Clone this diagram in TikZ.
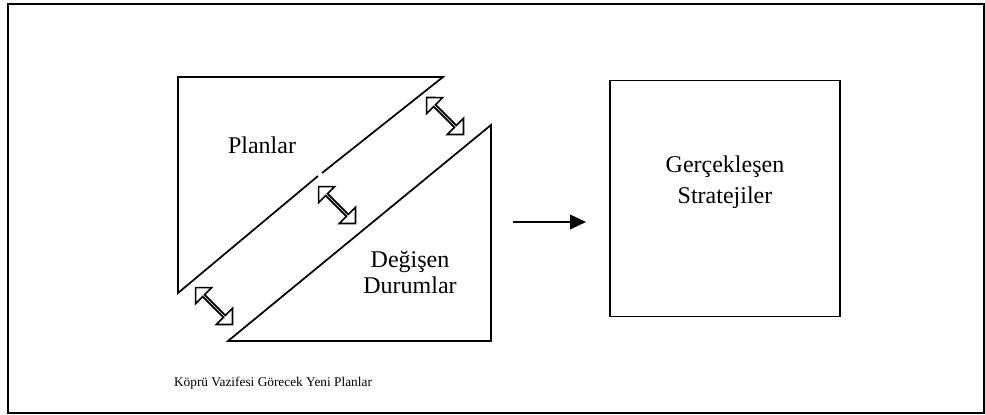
\documentclass[tikz,border=0pt]{standalone}
\usepackage{fontspec}
\setmainfont{Liberation Serif}
\usetikzlibrary{shapes.arrows,arrows.meta}
\tikzstyle{bigtext}=[font=\fontsize{18}{21}\selectfont, inner sep=0pt, anchor=base]
\tikzstyle{smalltext}=[font=\fontsize{10}{12}\selectfont, inner sep=0pt, anchor=base]
\tikzstyle{dblarrow}=[double arrow, draw, line width=1.3pt, minimum height=39pt, minimum width=17pt, double arrow head extend=5pt, inner sep=0pt, rotate=-45]
\newcommand{\dblarrow}{\node[dblarrow]}

\begin{document}
\begin{tikzpicture}[x=0.75pt, y=-0.75pt, line width=1.3pt]
            \useasboundingbox (0,0) rectangle (985,414);
            \draw (8,4) rectangle (984,413);
            % plans and changing conditions
            \draw (318,176) -- (178,293) -- (178,77) -- (443,77) -- (322,173);
            \draw (228,341) -- (491,125) -- (491,341) -- cycle;
            \dblarrow (a1) at (445,116){};
            \dblarrow (a2) at (337,205){};
            \dblarrow (a3) at (214,306){};
            \node[bigtext] (plan) at (262,153) {Planlar};
            \node[bigtext] (deg) at (410,267) {Değişen};
            \node[bigtext] (dur) at (410,293) {Durumlar};
            \node[smalltext] (kopru) at (273,386) {Köprü Vazifesi Görecek Yeni Planlar};
            % realised strategies
            \node[draw, minimum width=172.5pt, minimum height=177pt, inner sep=0pt] (box) at (725,198.5) {};
            \node[bigtext] (ger) at (box.center |- 0,172) {Gerçekleşen};
            \node[bigtext] (str) at (box.center |- 0,203) {Stratejiler};
            \coordinate (p) at (513,222);
            \coordinate (q) at (586,222);
            \draw[-{Triangle[length=12pt,width=11pt]}] (p) -- (q);
        \end{tikzpicture}
\end{document}
